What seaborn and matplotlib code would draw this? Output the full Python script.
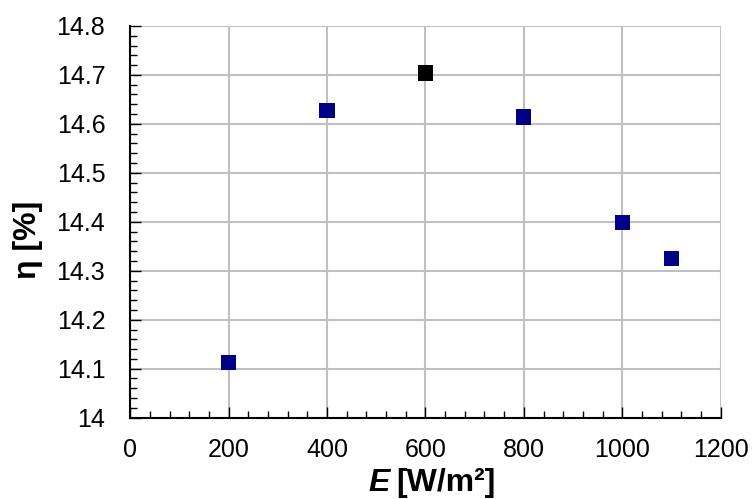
import matplotlib
matplotlib.use("Agg")
import matplotlib.pyplot as plt
import seaborn as sns
from matplotlib.ticker import MultipleLocator

# Irradiancia y eficiencia
irradiancia = [200, 400, 600, 800, 1000, 1100]
eficiencia = [14.112, 14.627, 14.704, 14.614, 14.399, 14.325]
grupo = ["med", "med", "ref", "med", "med", "med"]
colores = {"med": "#000085", "ref": "#000000"}
etiquetas_y = ["14", "14.1", "14.2", "14.3", "14.4", "14.5", "14.6", "14.7", "14.8"]

sns.set_style("white")
plt.rcParams["font.family"] = ["Liberation Sans", "DejaVu Sans"]
plt.rcParams["text.color"] = "black"
plt.rcParams["axes.labelcolor"] = "black"
plt.rcParams["xtick.color"] = "black"
plt.rcParams["ytick.color"] = "black"

fig, ax = plt.subplots(figsize=(7.53, 4.99), dpi=100)
sns.scatterplot(x=irradiancia, y=eficiencia, hue=grupo, palette=colores,
                marker="s", s=120, edgecolor="none", legend=False, ax=ax, zorder=3)

ax.set_xlim(0, 1200)
ax.set_ylim(14, 14.8)
ax.xaxis.set_major_locator(MultipleLocator(200))
ax.xaxis.set_minor_locator(MultipleLocator(40))
ax.yaxis.set_minor_locator(MultipleLocator(0.02))
ax.set_yticks([14 + 0.1 * i for i in range(len(etiquetas_y))])
ax.set_yticklabels(etiquetas_y)

ax.grid(True, which="major", color="#c0c0c0", linewidth=1.5)
ax.set_axisbelow(True)
ax.tick_params(which="both", direction="in", labelsize=18)
ax.tick_params(which="major", length=8, width=1)
ax.tick_params(which="minor", length=5, width=1)
ax.tick_params(axis="x", which="both", bottom=True, top=False, pad=15)
ax.tick_params(axis="y", which="both", left=True, right=False, pad=18)

for lado in ["top", "right"]:
    ax.spines[lado].set_visible(False)
for lado in ["left", "bottom"]:
    ax.spines[lado].set_color("black")
    ax.spines[lado].set_linewidth(1.5)

ax.set_xlabel("")
ax.text(0.403, -0.166, "E", transform=ax.transAxes, fontsize=23,
        fontweight="bold", fontstyle="italic", ha="left", va="center")
ax.text(0.451, -0.166, "[W/m²]", transform=ax.transAxes, fontsize=23,
        fontweight="bold", ha="left", va="center")
ax.set_ylabel("η [%]", fontsize=23, fontweight="bold")
ax.yaxis.set_label_coords(-0.147, 0.454)

fig.subplots_adjust(left=0.173, right=0.957, top=0.948, bottom=0.163)
fig.savefig("out.png", dpi=100)
